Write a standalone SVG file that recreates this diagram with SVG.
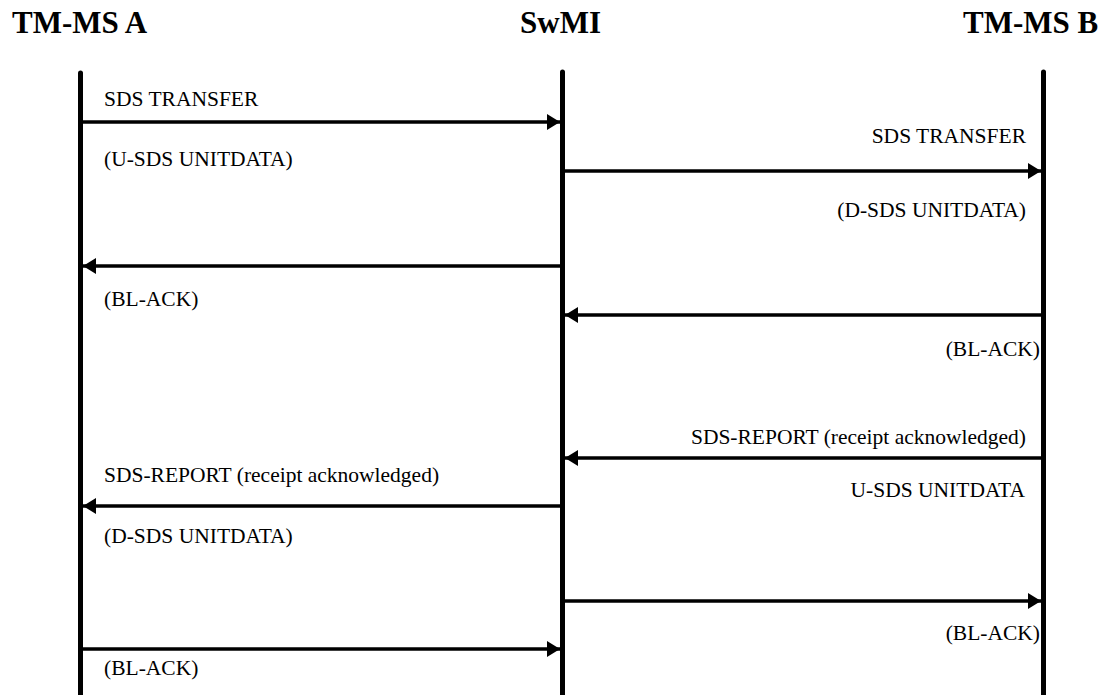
<svg xmlns="http://www.w3.org/2000/svg" width="1101" height="695" viewBox="0 0 1101 695">
<style>
text{font-family:'Liberation Serif','Times New Roman',Times,'DejaVu Serif',serif;fill:#000}
.hdr{font-weight:bold;font-size:31px}
.lbl{font-size:21.5px}
.end{text-anchor:end}
.life{stroke:#000;stroke-width:5;stroke-linecap:round;fill:none}
.msg{stroke:#000;stroke-width:3.4;fill:none;marker-end:url(#ah)}
</style>
<defs>
<marker id="ah" markerUnits="userSpaceOnUse" markerWidth="14" markerHeight="18" refX="13" refY="8" orient="auto">
<path d="M0,0 L13,8 L0,16 Z" fill="#000"/>
</marker>
</defs>
<rect width="1101" height="695" fill="#fff"/>
<g id="tm-ms-a">
<text class="hdr" x="12" y="33">TM-MS A</text>
<line class="life" x1="80.5" y1="73" x2="80.5" y2="700"/>
</g>
<g id="swmi">
<text class="hdr" x="520" y="33">SwMI</text>
<line class="life" x1="562.5" y1="72" x2="562.5" y2="700"/>
</g>
<g id="tm-ms-b">
<text class="hdr" x="963" y="33">TM-MS B</text>
<line class="life" x1="1043.5" y1="72" x2="1043.5" y2="700"/>
</g>
<g id="connectors">
<line class="msg" x1="83" y1="122" x2="560" y2="122"/>
<line class="msg" x1="565" y1="171" x2="1041" y2="171"/>
<line class="msg" x1="560" y1="266" x2="83" y2="266"/>
<line class="msg" x1="1041" y1="315" x2="565" y2="315"/>
<line class="msg" x1="1041" y1="458" x2="565" y2="458"/>
<line class="msg" x1="560" y1="506" x2="83" y2="506"/>
<line class="msg" x1="565" y1="601" x2="1041" y2="601"/>
<line class="msg" x1="83" y1="649" x2="560" y2="649"/>
</g>
<g id="labels">
<text class="lbl" x="104" y="106">SDS TRANSFER</text>
<text class="lbl" x="104" y="166">(U-SDS UNITDATA)</text>
<text class="lbl end" x="1026" y="143">SDS TRANSFER</text>
<text class="lbl end" x="1026" y="217">(D-SDS UNITDATA)</text>
<text class="lbl" x="104" y="306">(BL-ACK)</text>
<text class="lbl end" x="1040" y="356">(BL-ACK)</text>
<text class="lbl end" x="1026" y="444">SDS-REPORT (receipt acknowledged)</text>
<text class="lbl end" x="1025" y="497">U-SDS UNITDATA</text>
<text class="lbl" x="104" y="482">SDS-REPORT (receipt acknowledged)</text>
<text class="lbl" x="104" y="543">(D-SDS UNITDATA)</text>
<text class="lbl end" x="1040" y="640">(BL-ACK)</text>
<text class="lbl" x="104" y="675">(BL-ACK)</text>
</g>
</svg>
